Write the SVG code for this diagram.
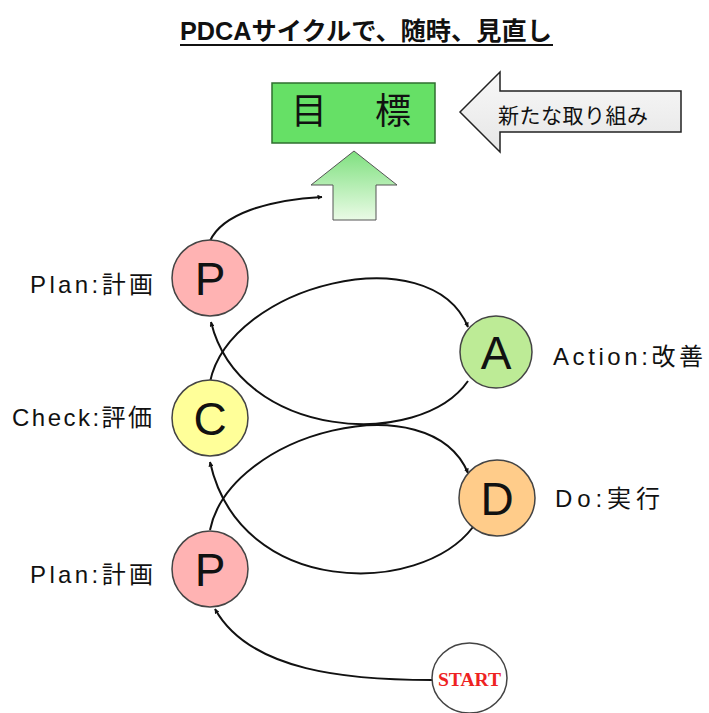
<svg xmlns="http://www.w3.org/2000/svg" width="709" height="713" viewBox="0 0 709 713">
<defs>
<style>
.lbl{font-family:"Liberation Sans","Noto Sans CJK JP",sans-serif;font-size:24px;fill:#111}
.node{stroke:#444;stroke-width:1.5}
.let{font-family:"Liberation Sans","Noto Sans CJK JP",sans-serif;font-size:46px;fill:#111;text-anchor:middle}
.con{fill:none;stroke:#111;stroke-width:2}
</style>
<marker id="ah" viewBox="0 0 10 10" refX="9" refY="5" markerWidth="5" markerHeight="5" orient="auto" markerUnits="userSpaceOnUse">
<path d="M0,0 L10,5 L0,10 z" fill="#111"/>
</marker>
<linearGradient id="gUp" x1="0" y1="0" x2="0" y2="1">
<stop offset="0" stop-color="#7fe07f"/>
<stop offset="1" stop-color="#eafbe6"/>
</linearGradient>
<linearGradient id="gLeft" x1="0" y1="0" x2="0" y2="1">
<stop offset="0" stop-color="#f8f8f8"/>
<stop offset="1" stop-color="#e6e6e6"/>
</linearGradient>
</defs>
<rect width="709" height="713" fill="#fff"/>

<g id="title">
<text x="180" y="40" font-family="'Liberation Sans','Noto Sans CJK JP',sans-serif" font-size="25" font-weight="bold" fill="#111" textLength="372" lengthAdjust="spacingAndGlyphs">PDCAサイクルで、随時、見直し</text>
<line x1="180" y1="45" x2="553" y2="45" stroke="#111" stroke-width="2"/>
</g>

<g id="goal">
<rect x="272" y="83" width="163" height="60" fill="#66e066" stroke="#2f6f2f" stroke-width="1.5"/>
<text x="309" y="124" font-family="'Noto Sans CJK JP',sans-serif" font-size="36" fill="#111" text-anchor="middle">目</text>
<text x="393" y="124" font-family="'Noto Sans CJK JP',sans-serif" font-size="36" fill="#111" text-anchor="middle">標</text>
</g>

<g id="new-initiative">
<path d="M460,112 L500,72 L500,91 L681,91 L681,132 L500,132 L500,152 Z" fill="url(#gLeft)" stroke="#222" stroke-width="1.5"/>
<text x="498" y="123" font-family="'Noto Sans CJK JP',sans-serif" font-size="21" fill="#111" textLength="150">新たな取り組み</text>
</g>

<g id="up-arrow">
<path d="M354,151 L397,185 L376,185 L376,220 L333,220 L333,185 L311,185 Z" fill="url(#gUp)" stroke="#555" stroke-width="1"/>
</g>

<g id="connectors">
<path class="con" d="M210,241 C222,214 268,200 322,197" marker-end="url(#ah)"/>
<path class="con" d="M210,382 C230,285 430,235 468,327" marker-end="url(#ah)"/>
<path class="con" d="M468,381 C420,450 240,440 211,322" marker-end="url(#ah)"/>
<path class="con" d="M210,530 C230,432 430,382 468,473" marker-end="url(#ah)"/>
<path class="con" d="M473,527 C420,597 240,597 210,462" marker-end="url(#ah)"/>
<path class="con" d="M432,680 C350,680 250,672 215,609" marker-end="url(#ah)"/>
</g>

<g id="plan-top">
<circle class="node" cx="210" cy="278" r="38" fill="#ffb3b3"/>
<text class="let" x="210" y="295">P</text>
<text class="lbl" x="30" y="293" textLength="123">Plan:計画</text>
</g>

<g id="action">
<circle class="node" cx="496" cy="352" r="36" fill="#bdeb96"/>
<text class="let" x="496" y="369">A</text>
<text class="lbl" x="553" y="365" textLength="150">Action:改善</text>
</g>

<g id="check">
<circle class="node" cx="210" cy="418" r="38" fill="#ffff99"/>
<text class="let" x="210" y="435">C</text>
<text class="lbl" x="12" y="426" textLength="140">Check:評価</text>
</g>

<g id="do">
<circle class="node" cx="497" cy="498" r="38" fill="#ffcc8a"/>
<text class="let" x="497" y="515">D</text>
<text class="lbl" x="555" y="507" textLength="105">Do:実行</text>
</g>

<g id="plan-bottom">
<circle class="node" cx="210" cy="569" r="38" fill="#ffb3b3"/>
<text class="let" x="210" y="586">P</text>
<text class="lbl" x="30" y="583" textLength="123">Plan:計画</text>
</g>

<g id="start">
<ellipse class="node" cx="469.5" cy="678" rx="37.5" ry="35" fill="#fff"/>
<text x="469.5" y="686" font-family="'Liberation Serif',serif" font-size="19" font-weight="bold" fill="#ee2222" text-anchor="middle" textLength="63" lengthAdjust="spacingAndGlyphs">START</text>
</g>
</svg>
